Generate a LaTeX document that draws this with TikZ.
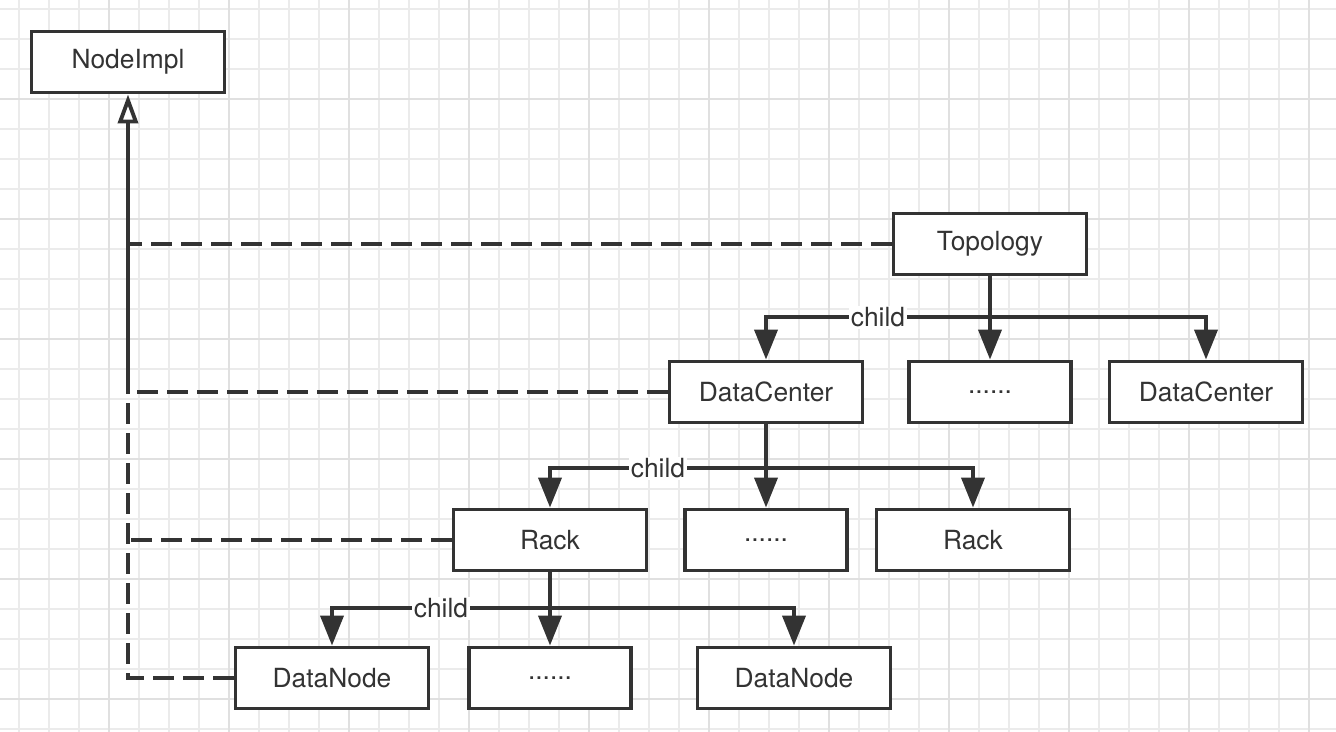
\documentclass[tikz,border=0pt]{standalone}
\usepackage{fontspec}
\setmainfont{TeX Gyre Heros}
\usetikzlibrary{arrows.meta}

\definecolor{ink}{HTML}{333333}
\definecolor{gridlo}{HTML}{EBEBEB}
\definecolor{gridhi}{HTML}{E0E0E0}

\tikzset{
  cls/.style={draw=ink, line width=2.2pt, fill=white, text=ink,
    minimum width=3.86cm, minimum height=1.22cm, inner sep=0pt,
    font=\fontsize{15}{17}\selectfont},
  etc/.style={cls, minimum width=3.24cm},
  child/.style={draw=ink, line width=2.2pt, -{Triangle[length=0.6cm,width=0.46cm]}},
  impl/.style={draw=ink, line width=2.2pt, dash pattern=on 0.42cm off 0.18cm},
  lbl/.style={fill=white, inner sep=1pt, text=ink, font=\fontsize{15}{17}\selectfont},
  gline/.style={draw=gridlo, line width=0.8pt},
  gmajor/.style={draw=gridhi, line width=0.8pt}
}

\begin{document}
\begin{tikzpicture}[x=0.02cm,y=-0.02cm]
      \useasboundingbox (0,0) rectangle (1336,732);
      \fill[white] (0,0) rectangle (1336,732);

      % grid
      \foreach \gx in {19,49,...,1309} \draw[gline] (\gx,0) -- (\gx,732);
      \foreach \gy in {9,39,...,729} \draw[gline] (0,\gy) -- (1336,\gy);
      \foreach \gx in {109,229,...,1309} \draw[gmajor] (\gx,0) -- (\gx,732);
      \foreach \gy in {99,219,...,699} \draw[gmajor] (0,\gy) -- (1336,\gy);

      \node[cls] (ni) at (128,62) {NodeImpl};
      \node[cls] (topo) at (990,244) {Topology};

      \node[cls] (dc1) at (766,392) {DataCenter};
      \node[etc] (dcetc) at (990,392) {......};
      \node[cls] (dc2) at (1206,392) {DataCenter};

      \node[cls] (rack1) at (550,540) {Rack};
      \node[etc] (racketc) at (766,540) {......};
      \node[cls] (rack2) at (973,540) {Rack};

      \node[cls] (dn1) at (332,678) {DataNode};
      \node[etc] (dnetc) at (550,678) {......};
      \node[cls] (dn2) at (794,678) {DataNode};

      % children
      \draw[child] (topo.south) -- ++(0,41) -| (dc2.north);
      \draw[child] (topo.south) -- (dcetc.north);
      \draw[child] (topo.south) -- ++(0,41) -| node[lbl,pos=0.25] {child} (dc1.north);

      \draw[child] (dc1.south) -- ++(0,44) -| (rack2.north);
      \draw[child] (dc1.south) -- (racketc.north);
      \draw[child] (dc1.south) -- ++(0,44) -| node[lbl,pos=0.25] {child} (rack1.north);

      \draw[child] (rack1.south) -- ++(0,36) -| (dn2.north);
      \draw[child] (rack1.south) -- (dnetc.north);
      \draw[child] (rack1.south) -- ++(0,36) -| node[lbl,pos=0.25] {child} (dn1.north);

      % realization of NodeImpl
      \draw[impl] (topo.west) -- (topo.west -| ni.south);
      \draw[impl] (dc1.west) -- (dc1.west -| ni.south);
      \draw[impl] (rack1.west) -- (rack1.west -| ni.south);
      \draw[impl] (dn1.west) -- (dn1.west -| ni.south) -- (dc1.west -| ni.south);
      \draw[draw=ink, line width=2.2pt, -{Triangle[open,length=0.58cm,width=0.4cm]}]
        (dc1.west -| ni.south) -- (ni.south);
    \end{tikzpicture}
\end{document}
